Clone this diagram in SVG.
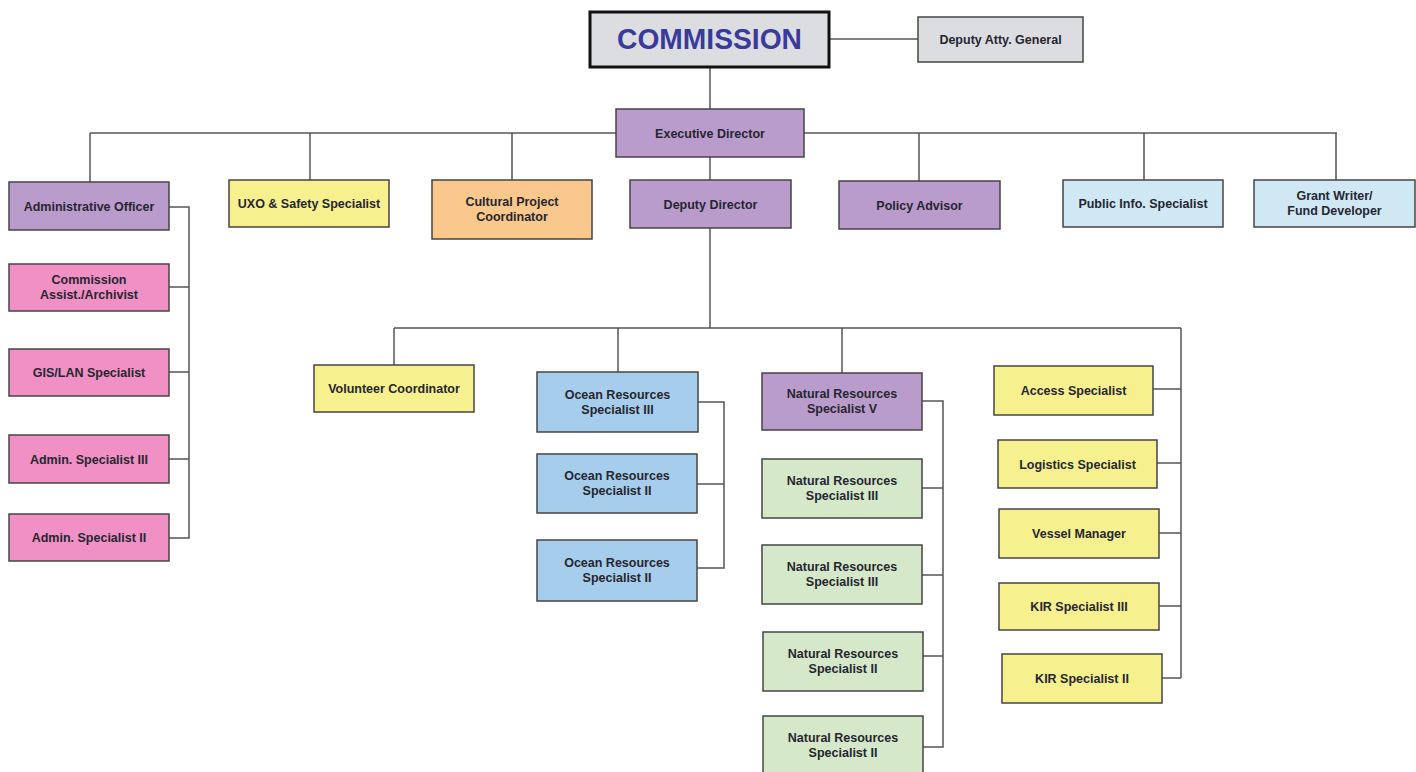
<svg xmlns="http://www.w3.org/2000/svg" width="1416" height="772" viewBox="0 0 1416 772">
<style>
.b{stroke:#454545;stroke-width:1.5}
.pu{fill:#b99ccc}.pk{fill:#f190c4}.ye{fill:#f7f08f}.or{fill:#fac88c}.lb{fill:#cfe8f4}.bl{fill:#a6cdec}.gr{fill:#d5e8c9}.gy{fill:#dcdde0}
text{font-family:"Liberation Sans",Arial,sans-serif;font-weight:bold;font-size:12.5px;fill:#262630;text-anchor:middle}
.c{fill:none;stroke:#555;stroke-width:1.5}
</style>
<rect width="1416" height="772" fill="#ffffff"/>
<g id="connectors" class="c">
<path d="M829,39 H918"/>
<path d="M710,67 V109"/>
<path d="M90,133 H1337"/>
<path d="M90,133 V182 M310,133 V180 M512,133 V180 M710,157 V180 M919,133 V181 M1144,133 V180 M1336,133 V180"/>
<path d="M169,207 H189 V538 H169 M169,287 H189 M169,372 H189 M169,459 H189"/>
<path d="M710,228 V328 M394,328 H1181 M394,328 V365 M618,328 V372 M842,328 V373 M1181,328 V678"/>
<path d="M698,402 H724 V568 H697 M697,484 H724"/>
<path d="M922,401 H943 V747 H923 M922,488 H943 M922,575 H943 M923,656 H943"/>
<path d="M1153,389 H1181 M1157,463 H1181 M1159,533 H1181 M1159,606 H1181 M1162,678 H1181"/>
</g>
<g id="commission"><rect x="590" y="12" width="239" height="55" class="gy" stroke="#111" stroke-width="3"/><text x="709.5" y="49" style="font-size:29px;fill:#3a3a9c" textLength="185" lengthAdjust="spacingAndGlyphs">COMMISSION</text></g>
<g id="deputy-atty"><rect x="918" y="17" width="165" height="45" class="b gy"/><text x="1000.5" y="44">Deputy Atty. General</text></g>
<g id="exec-director"><rect x="616" y="109" width="188" height="48" class="b pu"/><text x="710" y="137.5">Executive Director</text></g>
<g id="admin-officer"><rect x="9" y="182" width="160" height="48" class="b pu"/><text x="89" y="210.5">Administrative Officer</text></g>
<g id="commission-assist"><rect x="9" y="264" width="160" height="47" class="b pk"/><text x="89" y="283.5">Commission</text><text x="89" y="298.5">Assist./Archivist</text></g>
<g id="gis-lan"><rect x="9" y="349" width="160" height="47" class="b pk"/><text x="89" y="376.5">GIS/LAN Specialist</text></g>
<g id="admin-3"><rect x="9" y="435" width="160" height="48" class="b pk"/><text x="89" y="463.5">Admin. Specialist III</text></g>
<g id="admin-2"><rect x="9" y="514" width="160" height="47" class="b pk"/><text x="89" y="542">Admin. Specialist II</text></g>
<g id="uxo"><rect x="229" y="180" width="160" height="47" class="b ye"/><text x="309" y="208">UXO &amp; Safety  Specialist</text></g>
<g id="cultural"><rect x="432" y="180" width="160" height="59" class="b or"/><text x="512" y="206">Cultural  Project</text><text x="512" y="221">Coordinator</text></g>
<g id="deputy-director"><rect x="630" y="180" width="161" height="48" class="b pu"/><text x="710.5" y="208.5">Deputy Director</text></g>
<g id="policy-advisor"><rect x="839" y="181" width="161" height="48" class="b pu"/><text x="919.5" y="209.5">Policy Advisor</text></g>
<g id="public-info"><rect x="1063" y="180" width="160" height="47" class="b lb"/><text x="1143" y="208">Public Info.  Specialist</text></g>
<g id="grant-writer"><rect x="1254" y="180" width="161" height="47" class="b lb"/><text x="1334.5" y="200">Grant Writer/</text><text x="1334.5" y="215">Fund Developer</text></g>
<g id="volunteer"><rect x="314" y="365" width="160" height="47" class="b ye"/><text x="394" y="393">Volunteer Coordinator</text></g>
<g id="ocean-3"><rect x="537" y="372" width="161" height="60" class="b bl"/><text x="617.5" y="398.5">Ocean Resources</text><text x="617.5" y="413.5">Specialist III</text></g>
<g id="ocean-2a"><rect x="537" y="454" width="160" height="59" class="b bl"/><text x="617" y="480">Ocean Resources</text><text x="617" y="495">Specialist II</text></g>
<g id="ocean-2b"><rect x="537" y="540" width="160" height="61" class="b bl"/><text x="617" y="567">Ocean Resources</text><text x="617" y="582">Specialist II</text></g>
<g id="nr-5"><rect x="762" y="373" width="160" height="57" class="b pu"/><text x="842" y="398">Natural Resources</text><text x="842" y="413">Specialist V</text></g>
<g id="nr-3a"><rect x="762" y="459" width="160" height="59" class="b gr"/><text x="842" y="485">Natural Resources</text><text x="842" y="500">Specialist III</text></g>
<g id="nr-3b"><rect x="762" y="545" width="160" height="59" class="b gr"/><text x="842" y="571">Natural Resources</text><text x="842" y="586">Specialist III</text></g>
<g id="nr-2a"><rect x="763" y="632" width="160" height="59" class="b gr"/><text x="843" y="658">Natural Resources</text><text x="843" y="673">Specialist II</text></g>
<g id="nr-2b"><rect x="763" y="716" width="160" height="60" class="b gr"/><text x="843" y="742">Natural Resources</text><text x="843" y="757">Specialist II</text></g>
<g id="access"><rect x="994" y="366" width="159" height="49" class="b ye"/><text x="1073.5" y="394.5">Access  Specialist</text></g>
<g id="logistics"><rect x="998" y="440" width="159" height="48" class="b ye"/><text x="1077.5" y="468.5">Logistics Specialist</text></g>
<g id="vessel"><rect x="999" y="509" width="160" height="49" class="b ye"/><text x="1079" y="538">Vessel Manager</text></g>
<g id="kir-3"><rect x="999" y="583" width="160" height="47" class="b ye"/><text x="1079" y="611">KIR Specialist III</text></g>
<g id="kir-2"><rect x="1002" y="654" width="160" height="49" class="b ye"/><text x="1082" y="683">KIR Specialist II</text></g>
</svg>
